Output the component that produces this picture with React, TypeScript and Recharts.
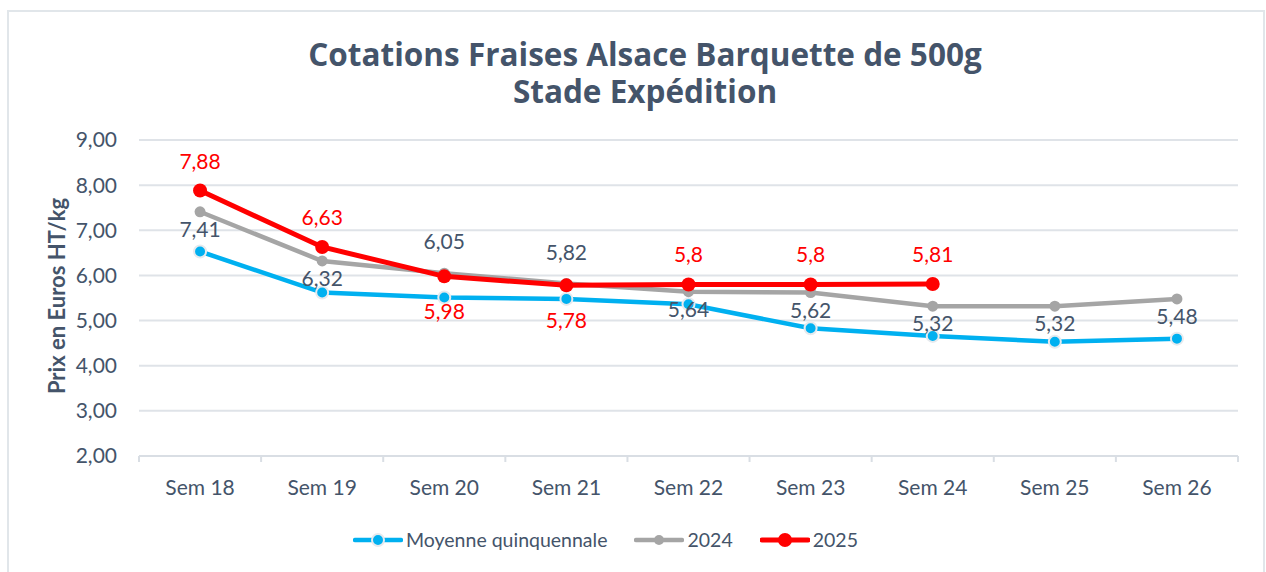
import { LineChart, Line, XAxis, YAxis, CartesianGrid, LabelList } from 'recharts';

const WEEKS = ['Sem 18', 'Sem 19', 'Sem 20', 'Sem 21', 'Sem 22', 'Sem 23', 'Sem 24', 'Sem 25', 'Sem 26'];
const MOYENNE = [6.53, 5.62, 5.51, 5.48, 5.36, 4.83, 4.66, 4.53, 4.6];
const Y2024 = [7.41, 6.32, 6.05, 5.82, 5.64, 5.62, 5.32, 5.32, 5.48];
const Y2025 = [7.88, 6.63, 5.98, 5.78, 5.8, 5.8, 5.81];
const Y_TICKS = [2, 3, 4, 5, 6, 7, 8, 9];
const TITLE_LINES = ['Cotations Fraises Alsace Barquette de 500g', 'Stade Expédition'];

// which side of the point each data label sits on
const SIDE_2024 = ['below', 'below', 'above', 'above', 'below', 'below', 'below', 'below', 'below'];
const SIDE_2025 = ['above', 'above', 'below', 'below', 'above', 'above', 'above'];

const TEXT = '#44546a';
const FONT = 'Lato, "Noto Sans", sans-serif';

const data = WEEKS.map((w, i) => ({
    week: w,
    moyenne: MOYENNE[i],
    y2024: Y2024[i],
    y2025: i < Y2025.length ? Y2025[i] : null,
}));

const fmt = (v: number) => String(v).replace('.', ',');

function makeLabel(color: string, sides: string[], above: number, below: number) {
    return (props: any) => {
        const { x, y, value, index } = props;
        if (value == null) return null;
        const dy = sides[index] === 'above' ? above : below;
        return (
            <text x={x} y={y + dy} textAnchor="middle" fill={color} fontSize={21} fontFamily={FONT}>
                {fmt(value)}
            </text>
        );
    };
}

function WeekTick(props: any) {
    const { x, y, payload, index } = props;
    const half = payload.offset || 0;
    return (
        <g>
            <line x1={x - half} y1={y - 8} x2={x - half} y2={y - 2} stroke="#d9dee4" strokeWidth={2} />
            {index === WEEKS.length - 1 && (
                <line x1={x + half} y1={y - 8} x2={x + half} y2={y - 2} stroke="#d9dee4" strokeWidth={2} />
            )}
            <text x={x} y={y + 31} textAnchor="middle" fill={TEXT} fontSize={21} fontFamily={FONT}>
                {payload.value}
            </text>
        </g>
    );
}

const LEGEND = [
    { name: 'Moyenne quinquennale', color: '#00b0f0', r: 6, ring: true },
    { name: '2024', color: '#a5a5a5', r: 5, ring: false },
    { name: '2025', color: '#ff0000', r: 7, ring: false },
];

export default function App() {
    return (
        <div style={{ position: 'absolute', left: 0, top: 0, width: 1266, height: 572, background: '#fff', overflow: 'hidden', fontFamily: FONT }}>
            {/* frame */}
            <div style={{ position: 'absolute', left: 7, top: 10, width: 1258, height: 580, border: '2px solid #e1e6ea', boxSizing: 'border-box' }} />

            <svg width={1266} height={120} style={{ position: 'absolute', left: 0, top: 0 }}>
                <text textAnchor="middle" fill={TEXT} fontFamily='"Open Sans", sans-serif' fontWeight={700} fontSize={31.5}>
                    {TITLE_LINES.map((t, i) => (
                        <tspan key={t} x={645} y={66 + i * 37}>{t}</tspan>
                    ))}
                </text>
            </svg>

            <div style={{ position: 'absolute', left: 56, top: 296, transform: 'translate(-50%, -50%) rotate(-90deg)', whiteSpace: 'nowrap', color: TEXT, fontWeight: 700, fontSize: 22 }}>
                Prix en Euros HT/kg
            </div>

            <LineChart width={1266} height={572} data={data} margin={{ top: 140, right: 28, bottom: 86, left: 0 }} style={{ position: 'absolute', left: 0, top: 0 }}>
                <CartesianGrid vertical={false} stroke="#dfe3e8" strokeWidth={2} />
                <XAxis
                    dataKey="week"
                    scale="band"
                    height={30}
                    axisLine={{ stroke: '#d9dee4', strokeWidth: 2 }}
                    tickLine={false}
                    tick={<WeekTick />}
                    interval={0}
                />
                <YAxis
                    width={139}
                    domain={[2, 9]}
                    ticks={Y_TICKS}
                    axisLine={false}
                    tickLine={false}
                    tickMargin={16}
                    tickFormatter={(v: number) => v.toFixed(2).replace('.', ',')}
                    tick={{ fill: TEXT, fontSize: 21, fontFamily: FONT }}
                />
                <Line
                    dataKey="moyenne"
                    stroke="#00b0f0"
                    strokeWidth={4.5}
                    dot={{ r: 6, fill: '#00b0f0', stroke: '#e6eaee', strokeWidth: 2 }}
                    activeDot={false}
                    isAnimationActive={false}
                />
                <Line
                    dataKey="y2024"
                    stroke="#a5a5a5"
                    strokeWidth={4.5}
                    dot={{ r: 5.5, fill: '#a5a5a5', stroke: 'none' }}
                    activeDot={false}
                    isAnimationActive={false}
                >
                    <LabelList dataKey="y2024" content={makeLabel(TEXT, SIDE_2024, -24, 25)} />
                </Line>
                <Line
                    dataKey="y2025"
                    stroke="#ff0000"
                    strokeWidth={5}
                    dot={{ r: 7, fill: '#ff0000', stroke: 'none' }}
                    activeDot={false}
                    isAnimationActive={false}
                >
                    <LabelList dataKey="y2025" content={makeLabel('#ff0000', SIDE_2025, -22, 43)} />
                </Line>
            </LineChart>

            <div style={{ position: 'absolute', left: 353, top: 528, display: 'flex', alignItems: 'center', color: TEXT, fontSize: 19.5 }}>
                {LEGEND.map((l, i) => (
                    <div key={l.name} style={{ display: 'flex', alignItems: 'center', marginRight: i < LEGEND.length - 1 ? 27 : 0 }}>
                        <svg width={50} height={20}>
                            <line x1={2} y1={10} x2={48} y2={10} stroke={l.color} strokeWidth={l.color === '#ff0000' ? 5 : 4.5} strokeLinecap="round" />
                            <circle cx={25} cy={10} r={l.r} fill={l.color} stroke={l.ring ? '#e6eaee' : 'none'} strokeWidth={2} />
                        </svg>
                        <span style={{ marginLeft: 3 }}>{l.name}</span>
                    </div>
                ))}
            </div>
        </div>
    );
}
